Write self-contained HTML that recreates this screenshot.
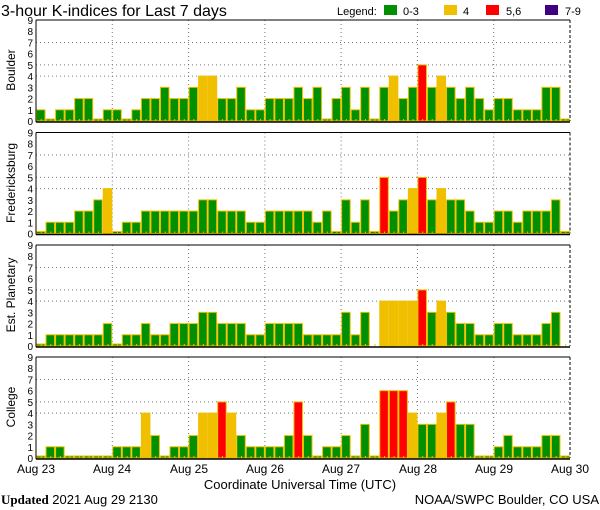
<!DOCTYPE html>
<html><head><meta charset="utf-8"><style>
html,body{margin:0;padding:0;background:#fff;}
svg{display:block;font-family:"Liberation Sans",sans-serif;}
</style></head><body>
<svg id="s" width="600" height="510" viewBox="0 0 600 510" xmlns="http://www.w3.org/2000/svg">
<text x="1" y="16" font-size="16" fill="#000">3-hour K-indices for Last 7 days</text>
<text x="337" y="15" font-size="11">Legend:</text>
<rect x="384" y="5" width="13" height="10" fill="#009000"/><text x="403" y="15" font-size="11">0-3</text>
<rect x="444" y="5" width="13" height="10" fill="#f0c000"/><text x="463" y="15" font-size="11">4</text>
<rect x="486" y="5" width="13" height="10" fill="#ff0000"/><text x="506" y="15" font-size="11">5,6</text>
<rect x="545" y="5" width="13" height="10" fill="#400080"/><text x="565" y="15" font-size="11">7-9</text>
<text transform="translate(15,70) rotate(-90)" text-anchor="middle" font-size="12">Boulder</text>
<text transform="translate(15,183) rotate(-90)" text-anchor="middle" font-size="12">Fredericksburg</text>
<text transform="translate(15,295) rotate(-90)" text-anchor="middle" font-size="12">Est. Planetary</text>
<text transform="translate(15,407) rotate(-90)" text-anchor="middle" font-size="12">College</text>
<g font-size="12" text-anchor="middle">
<text x="36" y="473">Aug 23</text><text x="112" y="473">Aug 24</text><text x="189" y="473">Aug 25</text>
<text x="265" y="473">Aug 26</text><text x="341" y="473">Aug 27</text><text x="418" y="473">Aug 28</text>
<text x="494" y="473">Aug 29</text><text x="570" y="473">Aug 30</text>
</g>
<text x="300" y="489" font-size="13" text-anchor="middle">Coordinate Universal Time (UTC)</text>
<text x="1" y="504" font-size="13"><tspan font-family="Liberation Serif" font-weight="bold">Updated</tspan> 2021 Aug 29 2130</text>
<text x="599" y="504" font-size="13" text-anchor="end">NOAA/SWPC Boulder, CO USA</text>
<g id="g"></g>
</svg>
<script>
var D=[
[1,0,1,1,2,2,0,1,1,0,1,2,2,3,2,2,3,4,4,2,2,3,1,1,2,2,2,3,2,3,0,2,3,1,3,0,3,4,2,3,5,3,4,3,2,3,2,1,2,2,1,1,1,3,3,0],
[0,1,1,1,2,2,3,4,0,1,1,2,2,2,2,2,2,3,3,2,2,2,1,1,2,2,2,2,2,1,2,0,3,1,3,0,5,2,3,4,5,3,4,3,3,2,1,1,2,2,1,2,2,2,3,0],
[0,1,1,1,1,1,1,2,0,1,1,2,1,1,2,2,2,3,3,2,2,2,1,1,2,2,2,2,1,1,1,1,3,1,3,-1,4,4,4,4,5,3,4,3,2,2,1,1,2,2,1,1,1,2,3,-1],
[0,1,1,0,0,0,0,0,1,1,1,4,2,0,1,1,2,4,4,5,4,2,1,1,1,1,2,5,2,0,1,1,2,0,3,0,6,6,6,4,3,3,4,5,3,3,0,0,1,2,1,1,1,2,2,0]];
var Z=[121,233.5,346,458],U=11.22,X0=36,X1=570,W=(X1-X0)/56,h='';
function col(v){return v<=3?'#009000':v==4?'#f0c000':v<=6?'#ff0000':'#400080';}
for(var p=0;p<4;p++){var z=Z[p],t=z-9*U;
 [4,5,7].forEach(function(k){var y=z-k*U;h+='<line x1="'+X0+'" x2="'+X1+'" y1="'+y+'" y2="'+y+'" stroke="#777" stroke-dasharray="1,3"/>';});
 for(var d=1;d<7;d++){var x=X0+d*8*W;h+='<line x1="'+x+'" x2="'+x+'" y1="'+t+'" y2="'+z+'" stroke="#777" stroke-dasharray="1,3"/>';}
 for(var i=0;i<56;i++){var v=D[p][i],x=X0+i*W;if(v<0){h+='<rect x="'+(x+W/2)+'" y="'+(z-2)+'" width="1" height="2" fill="#f0c000"/>';continue;}
  var hh=v==0?2:v*U;h+='<rect x="'+(x+0.5)+'" y="'+(z-hh)+'" width="'+(W-1)+'" height="'+hh+'" fill="'+col(v)+'" stroke="#f0c000" stroke-width="1"/>';
  h+='<rect x="'+(x+W/2)+'" y="'+(z-2)+'" width="1" height="2" fill="#f0c000"/>';}
 h+='<line x1="'+X0+'" x2="'+X1+'" y1="'+t+'" y2="'+t+'" stroke="#000"/>';
 h+='<line x1="'+X0+'" x2="'+X0+'" y1="'+t+'" y2="'+(z+1)+'" stroke="#000"/>';
 h+='<line x1="'+X0+'" x2="'+X1+'" y1="'+(z+1)+'" y2="'+(z+1)+'" stroke="#000" stroke-width="1.5"/>';
 h+='<line x1="'+X1+'" x2="'+X1+'" y1="'+t+'" y2="'+z+'" stroke="#000" stroke-dasharray="3,2"/>';
 for(var k=0;k<=9;k++){h+='<text x="33" y="'+(z-k*U+4)+'" font-size="10" text-anchor="end">'+k+'</text>';}
}
document.getElementById('g').innerHTML=h;
</script>
</body></html>
